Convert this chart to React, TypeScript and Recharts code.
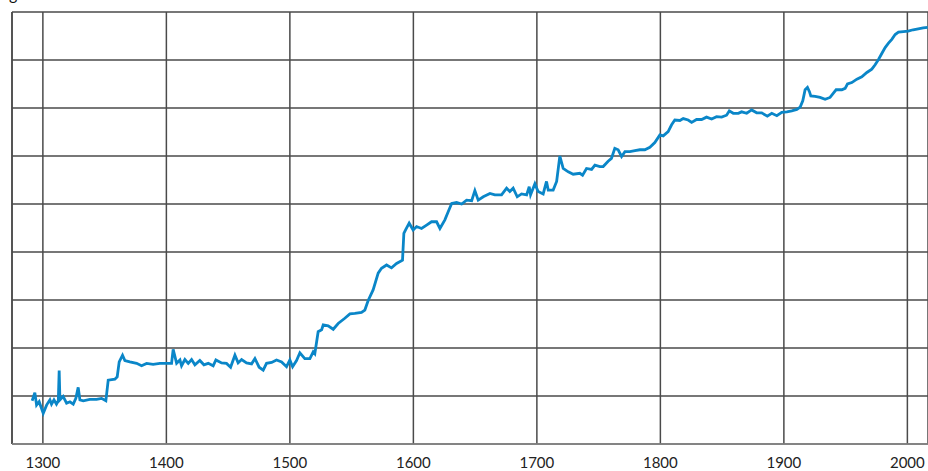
import React from 'react';
import { LineChart, Line, XAxis, YAxis, CartesianGrid, ReferenceLine } from 'recharts';

const years = [
  1291.3, 1293.5, 1294.9, 1297, 1300.3, 1303, 1305.7, 1307, 1309, 1311, 1312.5, 1313.2, 1313.8, 1316.4, 1319.2,
  1321.9, 1324.6, 1326.7, 1328.6, 1330, 1332.7, 1338, 1343.5, 1347.5, 1351, 1352.9, 1358.3, 1360.2, 1361.8,
  1364.5, 1366.4, 1370.4, 1375.9, 1379.9, 1384, 1389.3, 1394.7, 1400.2, 1404.2, 1405.5, 1408.3, 1411, 1412.3,
  1415, 1417.7, 1420.4, 1423.1, 1427.1, 1430.4, 1433.9, 1437.9, 1440.1, 1444.7, 1448.7, 1452, 1455.5, 1458.1,
  1460.9, 1464.9, 1469, 1471.7, 1475.1, 1478.4, 1481.1, 1485.2, 1489.2, 1493.3, 1497.3, 1500, 1502.2, 1505.4,
  1508.1, 1512.1, 1516.2, 1518.9, 1520.2, 1522.9, 1525.7, 1527, 1531, 1535.1, 1539.1, 1544.5, 1548.6, 1552.6,
  1558, 1560.7, 1563.4, 1567.4, 1571.5, 1574.2, 1578.3, 1582.3, 1586.4, 1591.2, 1592.3, 1593.9, 1596.6, 1599.8,
  1602.6, 1606.6, 1610.7, 1614.7, 1618.8, 1621.5, 1625.5, 1628.2, 1631, 1635, 1639.1, 1643.1, 1647.2, 1649.8,
  1652.5, 1656.6, 1662, 1666, 1671.4, 1675.5, 1678.1, 1680.8, 1684.1, 1687.6, 1691.7, 1693.8, 1694.9, 1698.4,
  1701, 1705.1, 1707.8, 1709.2, 1713.2, 1716, 1718.6, 1721.3, 1725.4, 1729.4, 1734.8, 1737, 1740.2, 1744.3,
  1747, 1751, 1753.7, 1757.7, 1760.4, 1763.1, 1765.8, 1768.6, 1771.3, 1775.3, 1779.4, 1783.4, 1787.4, 1791.5,
  1795.5, 1799.6, 1802.3, 1806.3, 1809.1, 1811.7, 1815.8, 1818.5, 1822.5, 1825.3, 1829.3, 1833.4, 1837.4,
  1841.5, 1845.5, 1849.6, 1853.6, 1855.8, 1859, 1863.1, 1865.8, 1869.9, 1873.9, 1878, 1882, 1886.6, 1890.2,
  1894.3, 1898.3, 1902.4, 1906.4, 1910.5, 1913.2, 1915.3, 1917.2, 1919.1, 1920.7, 1921.8, 1925.3, 1929.3,
  1933.4, 1937.4, 1940.1, 1942.3, 1946.9, 1949.6, 1951.5, 1955, 1959.1, 1963.1, 1967.2, 1971.2, 1973.9, 1976.6,
  1979.4, 1982, 1984.7, 1987.4, 1990.1, 1992.8, 1996.8, 2000.6, 2004.7, 2008.8, 2012.8, 2016.4,
];

const values = [
  0.9, 1.07, 0.81, 0.88, 0.64, 0.81, 0.92, 0.83, 0.92, 0.83, 0.9, 1.53, 0.92, 0.99, 0.85,
  0.88, 0.83, 0.95, 1.18, 0.92, 0.9, 0.93, 0.93, 0.95, 0.9, 1.33, 1.35, 1.4, 1.71,
  1.85, 1.74, 1.71, 1.68, 1.63, 1.68, 1.66, 1.68, 1.68, 1.68, 1.97, 1.68, 1.75, 1.63,
  1.76, 1.68, 1.76, 1.65, 1.74, 1.65, 1.68, 1.63, 1.75, 1.69, 1.68, 1.6, 1.85, 1.69,
  1.76, 1.69, 1.67, 1.78, 1.6, 1.54, 1.68, 1.7, 1.75, 1.71, 1.61, 1.75, 1.61, 1.74,
  1.9, 1.78, 1.78, 1.92, 1.88, 2.34, 2.38, 2.48, 2.46, 2.39, 2.51, 2.62, 2.71, 2.72,
  2.74, 2.79, 2.99, 3.21, 3.56, 3.66, 3.73, 3.67, 3.76, 3.83, 4.39, 4.47, 4.6, 4.46,
  4.53, 4.49, 4.56, 4.63, 4.63, 4.49, 4.67, 4.84, 5.01, 5.03, 5.0, 5.08, 5.07, 5.28,
  5.08, 5.15, 5.22, 5.19, 5.19, 5.33, 5.26, 5.33, 5.15, 5.21, 5.19, 5.36, 5.19, 5.42,
  5.26, 5.21, 5.47, 5.29, 5.29, 5.47, 6.0, 5.74, 5.67, 5.62, 5.64, 5.6, 5.74, 5.72,
  5.81, 5.78, 5.78, 5.89, 5.95, 6.16, 6.13, 5.99, 6.09, 6.09, 6.11, 6.13, 6.13, 6.18,
  6.28, 6.44, 6.42, 6.51, 6.65, 6.75, 6.74, 6.78, 6.75, 6.7, 6.76, 6.76, 6.81,
  6.77, 6.82, 6.81, 6.85, 6.94, 6.89, 6.89, 6.92, 6.89, 6.96, 6.9, 6.9, 6.83, 6.89,
  6.84, 6.91, 6.92, 6.94, 6.97, 7.02, 7.15, 7.38, 7.43, 7.34, 7.25, 7.24, 7.22,
  7.18, 7.22, 7.31, 7.38, 7.38, 7.41, 7.5, 7.53, 7.6, 7.65, 7.74, 7.81, 7.9, 8.01,
  8.14, 8.26, 8.35, 8.43, 8.53, 8.58, 8.59, 8.6, 8.63, 8.65, 8.67, 8.68,
];

const xTicks = [1300, 1400, 1500, 1600, 1700, 1800, 1900, 2000];
const yTicks = [0, 1, 2, 3, 4, 5, 6, 7, 8, 9];

const data = years.map((year, i) => ({ year, value: values[i] }));

export default function App() {
  return (
    <div style={{ position: 'fixed', left: 0, top: 0, width: 928, height: 471, overflow: 'hidden', background: '#fff' }}>
      <div style={{ position: 'absolute', left: 9, top: -14, fontFamily: 'Lato, sans-serif', fontSize: 16, lineHeight: '16px', color: '#111' }}>
        g
      </div>
      <LineChart width={928} height={471} data={data} margin={{ top: 12, right: 0, left: 12, bottom: 0 }}>
        <CartesianGrid stroke="#4a4a4a" strokeWidth={1.5} />
        <XAxis
          dataKey="year"
          type="number"
          domain={[1275, 2016.7]}
          allowDataOverflow
          ticks={xTicks}
          height={27}
          axisLine={{ stroke: '#888', strokeWidth: 1.5 }}
          tickLine={false}
          tickSize={6}
          tickMargin={7}
          tick={{ fill: '#222', fontSize: 15, fontFamily: 'Lato, sans-serif' }}
        />
        <YAxis hide type="number" domain={[0, 9]} ticks={yTicks} />
        <ReferenceLine x={1275} stroke="#4a4a4a" strokeWidth={1.5} />
        <Line
          dataKey="value"
          type="linear"
          stroke="#0a86c8"
          strokeWidth={2.8}
          dot={false}
          isAnimationActive={false}
        />
      </LineChart>
    </div>
  );
}
